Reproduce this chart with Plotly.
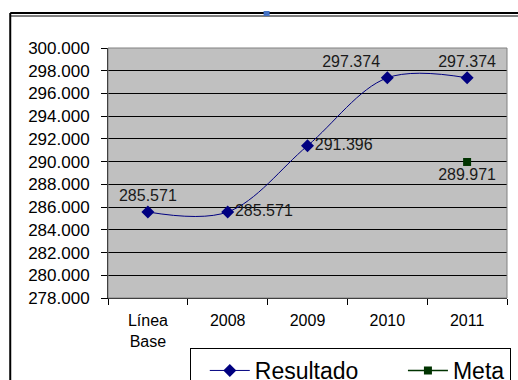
import plotly.graph_objects as go

categories = ["Línea<br>Base", "2008", "2009", "2010", "2011"]
resultado = [285571, 285571, 291396, 297374, 297374]
meta_cats = ["2011"]
meta = [289971]
y_ticks = list(range(278000, 300001, 2000))

font = "Liberation Sans, Arial, sans-serif"

fig = go.Figure()
fig.add_trace(go.Scatter(
    x=categories, y=resultado, name="Resultado\u00a0\u00a0\u00a0\u00a0",
    mode="lines+markers+text",
    line=dict(color="#000080", width=1, shape="spline", smoothing=1),
    marker=dict(symbol="diamond", size=10, color="#000080"),
    text=[f"{v:,}".replace(",", ".") for v in resultado],
    textposition=["top center", "middle right", "middle right", "top left", "top center"],
    textfont=dict(family=font, size=16, color="#1a1a1a"),
))
fig.add_trace(go.Scatter(
    x=meta_cats, y=meta, name="Meta",
    mode="lines+markers+text",
    line=dict(color="#003300", width=1.5),
    marker=dict(symbol="square", size=8, color="#003300"),
    text=[f"{v:,}".replace(",", ".") for v in meta],
    textposition="bottom center",
    textfont=dict(family=font, size=16, color="#1a1a1a"),
))

fig.update_layout(
    width=518, height=380,
    margin=dict(l=108, r=11, t=48, b=82, autoexpand=False),
    paper_bgcolor="white",
    plot_bgcolor="#c0c0c0",
    separators=",.",
    font=dict(family=font, size=16, color="#000000"),
    showlegend=True,
    legend=dict(
        orientation="h", x=0.205, y=-0.2, xanchor="left", yanchor="top",
        bordercolor="#000000", borderwidth=1, bgcolor="white",
        font=dict(size=23), itemwidth=40, indentation=14,
    ),
    xaxis=dict(
        type="category", categoryorder="array", categoryarray=categories,
        range=[-0.5, 4.5], showgrid=False, tickson="boundaries",
        ticks="outside", ticklen=6, tickcolor="#000000",
        showline=True, linecolor="#000000", linewidth=1,
        tickfont=dict(size=16), zeroline=False, ticklabelstandoff=8,
        automargin=False,
    ),
    yaxis=dict(
        range=[278000, 300000], tickvals=y_ticks, tickformat=",.0f",
        showgrid=True, gridcolor="#000000", gridwidth=1,
        ticks="outside", ticklen=6, tickcolor="#000000",
        showline=True, linecolor="#000000", linewidth=1,
        tickfont=dict(size=17), zeroline=False, automargin=False,
        ticklabelstandoff=8,
    ),
    shapes=[
        dict(type="rect", xref="paper", yref="paper", x0=0, x1=1, y0=0, y1=1,
             line=dict(color="#808080", width=1), layer="above"),
        dict(type="line", xref="paper", yref="paper", x0=-0.245, x1=1.03, y0=1.14, y1=1.14,
             line=dict(color="#000000", width=2)),
        dict(type="line", xref="paper", yref="paper", x0=-0.245, x1=1.03, y0=1.128, y1=1.128,
             line=dict(color="#000000", width=1)),
        dict(type="line", xref="paper", yref="paper", x0=-0.245, x1=-0.245, y0=1.14, y1=-0.34,
             line=dict(color="#000000", width=2)),
        dict(type="rect", xref="paper", yref="paper", x0=0.39, x1=0.405, y0=1.128, y1=1.148,
             line=dict(width=0), fillcolor="#4472c4"),
    ],
)

fig.write_html(
    "out.html",
    config={"displayModeBar": False},
    post_script="document.body.style.margin='0px';document.body.style.overflow='hidden';",
)
